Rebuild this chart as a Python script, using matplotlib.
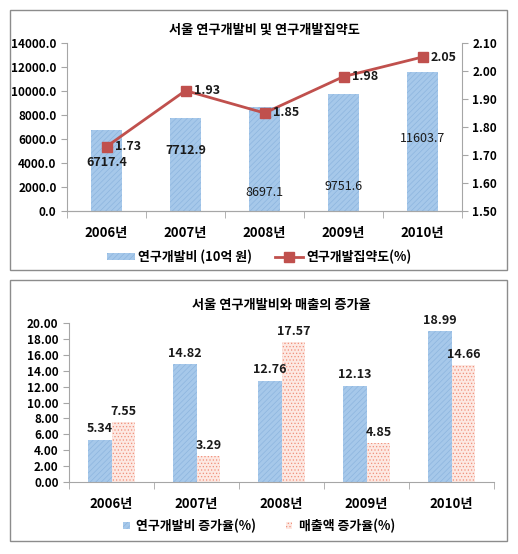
import matplotlib
matplotlib.use("Agg")
import matplotlib.pyplot as plt
from matplotlib.patches import Rectangle
from matplotlib.lines import Line2D
import numpy as np

plt.rcParams['font.family'] = ['Noto Sans CJK KR', 'DejaVu Sans']
plt.rcParams['hatch.linewidth'] = 0.5

years = ['2006년', '2007년', '2008년', '2009년', '2010년']
rd_spend = [6717.4, 7712.9, 8697.1, 9751.6, 11603.7]
rd_intensity = [1.73, 1.93, 1.85, 1.98, 2.05]
rd_growth = [5.34, 14.82, 12.76, 12.13, 18.99]
sales_growth = [7.55, 3.29, 17.57, 4.85, 14.66]

title1 = '서울 연구개발비 및 연구개발집약도'
title2 = '서울 연구개발비와 매출의 증가율'
leg1 = ['연구개발비 (10억 원)', '연구개발집약도(%)']
leg2 = ['연구개발비 증가율(%)', '매출액 증가율(%)']

# label placements / weights for bar values in top chart (as in the original)
spend_label_y = [4000, 5000, 1500, 2000, 6000]
spend_label_w = ['bold', 'bold', 'normal', 'normal', 'normal']

blue = '#A6C8EA'
blue_h = '#8DB5DF'
red_line = '#C0504D'
red_face = '#FDE8E2'
red_h = '#F08F7A'
axis_c = '#A6A6A6'

fig = plt.figure(figsize=(5.18, 5.54), dpi=100)

# panel borders
for (x0, y0, w, h) in [(10, 10, 497, 260), (10, 280, 497, 261)]:
    fig.add_artist(Rectangle((x0/518, 1-(y0+h)/554), w/518, h/554,
                             transform=fig.transFigure, fill=False,
                             edgecolor='#8C8C8C', linewidth=1.0))

x = np.arange(len(years))

# ---------- top chart ----------
ax1 = fig.add_axes([67/518, 1-211/554, (462-67)/518, (211-43)/554])
ax1.bar(x, rd_spend, width=0.4, color=blue, edgecolor=blue_h, hatch='//////',
        linewidth=0)
ax1.set_ylim(0, 14000)
ax1.set_yticks(np.arange(0, 14001, 2000))
ax1.set_yticklabels([f'{v:.1f}' for v in np.arange(0, 14001, 2000)])
ax1.set_xlim(-0.5, len(years)-0.5)
ax1.set_xticks(x)
ax1.set_xticklabels(years)
for i, v in enumerate(rd_spend):
    ax1.text(i, spend_label_y[i], f'{v:.1f}', ha='center', va='center',
             fontsize=9, fontweight=spend_label_w[i], color='#1a1a1a')

ax1b = ax1.twinx()
ax1b.plot(x, rd_intensity, color=red_line, linewidth=2, marker='s',
          markersize=6.5, markerfacecolor=red_line, markeredgecolor=red_line)
ax1b.set_ylim(1.5, 2.1)
ax1b.set_yticks(np.arange(1.5, 2.101, 0.1))
ax1b.set_yticklabels([f'{v:.2f}' for v in np.arange(1.5, 2.101, 0.1)])
for i, v in enumerate(rd_intensity):
    ax1b.annotate(f'{v:.2f}', (i, v), xytext=(6, 0), textcoords='offset points',
                  ha='left', va='center', fontsize=9, fontweight='bold',
                  color='#1a1a1a')

ax1.set_title(title1, fontsize=9.5, fontweight='bold', pad=7)

# ---------- bottom chart ----------
ax2 = fig.add_axes([69/518, 1-482/554, (494-69)/518, (482-323)/554])
w = 0.28
ax2.bar(x - w/2, rd_growth, width=w, color=blue, edgecolor=blue_h,
        hatch='//////', linewidth=0)
ax2.bar(x + w/2, sales_growth, width=w, color=red_face, edgecolor=red_h,
        hatch='.....', linewidth=0)
ax2.set_ylim(0, 20)
ax2.set_yticks(np.arange(0, 20.01, 2))
ax2.set_yticklabels([f'{v:.2f}' for v in np.arange(0, 20.01, 2)])
ax2.set_xlim(-0.5, len(years)-0.5)
ax2.set_xticks(x)
ax2.set_xticklabels(years)
for i in range(len(years)):
    ax2.annotate(f'{rd_growth[i]:.2f}', (i - w/2, rd_growth[i]), xytext=(0, 3),
                 textcoords='offset points', ha='center', va='bottom',
                 fontsize=9, fontweight='bold', color='#1a1a1a')
    ax2.annotate(f'{sales_growth[i]:.2f}', (i + w/2, sales_growth[i]),
                 xytext=(0, 3), textcoords='offset points', ha='center',
                 va='bottom', fontsize=9, fontweight='bold', color='#1a1a1a')
ax2.set_title(title2, fontsize=9.5, fontweight='bold', pad=10)

# axis styling
for ax in (ax1, ax1b, ax2):
    for s in ax.spines.values():
        s.set_color(axis_c)
    ax.spines['top'].set_visible(False)
    ax.tick_params(axis='y', labelsize=8.5, colors=axis_c, labelcolor='black',
                   length=4)
    for lab in ax.get_yticklabels():
        lab.set_fontweight('bold')
ax1.spines['right'].set_visible(False)
ax2.spines['right'].set_visible(False)
ax1b.spines['left'].set_visible(False)

for ax in (ax1, ax2):
    ax.tick_params(axis='x', which='major', length=0, labelsize=9.5, pad=11)
    for lab in ax.get_xticklabels():
        lab.set_fontweight('bold')
    ax.set_xticks(np.arange(-0.5, len(years), 1), minor=True)
    ax.tick_params(axis='x', which='minor', length=5, colors=axis_c)

# legends
h1 = [Rectangle((0, 0), 1, 1, facecolor=blue, edgecolor=blue_h, hatch='//////',
                linewidth=0),
      Line2D([], [], color=red_line, linewidth=2, marker='s', markersize=6.5)]
fig.legend(h1, leg1, loc='center', bbox_to_anchor=(0.5, 1-257/554), ncol=2,
           frameon=False, prop={'size': 9.3, 'weight': 'bold'},
           handlelength=2.2, handleheight=0.45, columnspacing=1.8,
           handletextpad=0.2)

h2 = [Rectangle((0, 0), 1, 1, facecolor=blue, edgecolor=blue_h, hatch='//////',
                linewidth=0),
      Rectangle((0, 0), 1, 1, facecolor=red_face, edgecolor=red_h,
                hatch='.....', linewidth=0)]
fig.legend(h2, leg2, loc='center', bbox_to_anchor=(0.5, 1-526/554), ncol=2,
           frameon=False, prop={'size': 9.3, 'weight': 'bold'},
           handlelength=0.5, handleheight=0.5, columnspacing=2.3,
           handletextpad=0.5)

fig.savefig('out.png', dpi=100)
